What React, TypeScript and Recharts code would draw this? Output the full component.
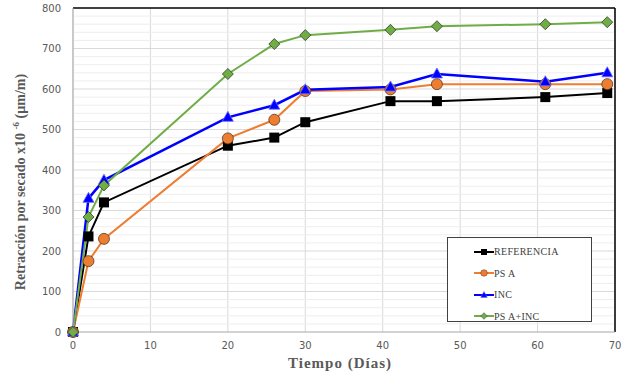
import React from 'react';
import {
  LineChart,
  Line,
  XAxis,
  YAxis,
  CartesianGrid,
  ReferenceLine,
} from 'recharts';

// tiempo (días)
const days = [0, 2, 4, 20, 26, 30, 41, 47, 61, 69];
const referencia = [0, 236, 320, 460, 480, 518, 570, 570, 580, 590];
const psA = [0, 175, 230, 478, 524, 595, 599, 612, 612, 612];
const inc = [0, 330, 375, 530, 560, 598, 605, 637, 618, 640];
const psAInc = [0, 284, 362, 637, 711, 733, 746, 755, 760, 765];

const xTicks = [0, 10, 20, 30, 40, 50, 60, 70];
const yTicks = [0, 100, 200, 300, 400, 500, 600, 700, 800];
const minorY = [20, 40, 60, 80, 120, 140, 160, 180, 220, 240, 260, 280, 320, 340, 360, 380, 420, 440, 460, 480, 520, 540, 560, 580, 620, 640, 660, 680, 720, 740, 760, 780];

const data = days.map((d, i) => ({
  dia: d,
  referencia: referencia[i],
  psA: psA[i],
  inc: inc[i],
  psAInc: psAInc[i],
}));

const Square = (props: any) => {
  const { cx, cy } = props;
  if (cx == null || cy == null) return null;
  return <rect x={cx - 5} y={cy - 5} width={10} height={10} fill="#000" />;
};

const Circle = (props: any) => {
  const { cx, cy } = props;
  if (cx == null || cy == null) return null;
  return <circle cx={cx} cy={cy} r={5.5} fill="#ed7d31" stroke="#5a3a20" strokeWidth={0.8} />;
};

const Triangle = (props: any) => {
  const { cx, cy } = props;
  if (cx == null || cy == null) return null;
  return <polygon points={`${cx},${cy - 6} ${cx + 5.5},${cy + 4} ${cx - 5.5},${cy + 4}`} fill="#0000ff" stroke="#6a6aff" strokeWidth={0.8} />;
};

const Diamond = (props: any) => {
  const { cx, cy } = props;
  if (cx == null || cy == null) return null;
  return <polygon points={`${cx},${cy - 5.5} ${cx + 5.5},${cy} ${cx},${cy + 5.5} ${cx - 5.5},${cy}`} fill="#70ad47" stroke="#2f3f25" strokeWidth={0.8} />;
};

const legendItems = [
  { name: 'REFERENCIA', color: '#000', shape: Square },
  { name: 'PS A', color: '#ed7d31', shape: Circle },
  { name: 'INC', color: '#0000ff', shape: Triangle },
  { name: 'PS A+INC', color: '#70ad47', shape: Diamond },
];

const LegendBox = () => (
  <div
    style={{
      position: 'absolute',
      left: 447,
      top: 237,
      width: 145,
      height: 85,
      border: '1px solid #404040',
      background: '#fff',
      boxSizing: 'border-box',
      padding: '3px 0 0 26px',
      fontFamily: '"Liberation Serif", serif',
      fontSize: 10,
      color: '#404040',
    }}
  >
    {legendItems.map((it) => {
      const S = it.shape;
      return (
        <div key={it.name} style={{ display: 'flex', alignItems: 'center', height: 21.5 }}>
          <svg width={20} height={12}>
            <line x1={0} y1={6} x2={20} y2={6} stroke={it.color} strokeWidth={2} />
            <g transform="translate(10,6) scale(0.6) translate(-10,-6)">
              <S cx={10} cy={6} />
            </g>
          </svg>
          <span style={{ letterSpacing: 0.3 }}>{it.name}</span>
        </div>
      );
    })}
  </div>
);

const tickStyle = { fill: '#595959', fontSize: 10, fontFamily: '"DejaVu Sans", sans-serif' };

export default function App() {
  return (
    <div style={{ position: 'absolute', left: 0, top: 0, width: 622, height: 381, background: '#fff' }}>
      <LineChart width={622} height={381} data={data} margin={{ top: 8, right: 7, bottom: 29, left: 0 }}>
        <CartesianGrid stroke="#d9d9d9" horizontal={false} />
        {minorY.map((v) => (
          <ReferenceLine key={v} y={v} stroke="#eeeeee" strokeWidth={1} />
        ))}
        {yTicks.slice(1, -1).map((v) => (
          <ReferenceLine key={'m' + v} y={v} stroke="#d9d9d9" strokeWidth={1} />
        ))}
        <XAxis
          dataKey="dia"
          type="number"
          domain={[0, 70]}
          ticks={xTicks}
          height={20}
          tick={tickStyle}
          tickLine={false}
          axisLine={{ stroke: '#a6a6a6' }}
          tickMargin={4}
        />
        <YAxis
          type="number"
          domain={[0, 800]}
          ticks={yTicks}
          width={73}
          tick={tickStyle}
          tickLine={false}
          axisLine={{ stroke: '#a6a6a6' }}
          tickMargin={6}
        />
        <ReferenceLine y={800} stroke="#000" strokeWidth={1.5} />
        <ReferenceLine x={70} stroke="#000" strokeWidth={1.5} />
        <Line dataKey="referencia" name="REFERENCIA" stroke="#000" strokeWidth={2} dot={<Square />} isAnimationActive={false} />
        <Line dataKey="psA" name="PS A" stroke="#ed7d31" strokeWidth={2} dot={<Circle />} isAnimationActive={false} />
        <Line dataKey="inc" name="INC" stroke="#0000ff" strokeWidth={2.5} dot={<Triangle />} isAnimationActive={false} />
        <Line dataKey="psAInc" name="PS A+INC" stroke="#70ad47" strokeWidth={2} dot={<Diamond />} isAnimationActive={false} />
      </LineChart>
      <LegendBox />
      <div
        style={{
          position: 'absolute',
          left: 20,
          top: 182,
          transform: 'translate(-50%, -50%) rotate(-90deg)',
          whiteSpace: 'nowrap',
          fontFamily: '"Liberation Serif", serif',
          fontWeight: 'bold',
          fontSize: 14,
          color: '#595959',
        }}
      >
        Retracción por secado x10 <sup style={{ fontSize: 9 }}>-6</sup> (µm/m)
      </div>
      <div
        style={{
          position: 'absolute',
          left: 340,
          top: 363,
          transform: 'translate(-50%, -50%)',
          whiteSpace: 'nowrap',
          fontFamily: '"Liberation Serif", serif',
          fontWeight: 'bold',
          fontSize: 15,
          letterSpacing: 1,
          color: '#595959',
        }}
      >
        Tiempo (Días)
      </div>
    </div>
  );
}
